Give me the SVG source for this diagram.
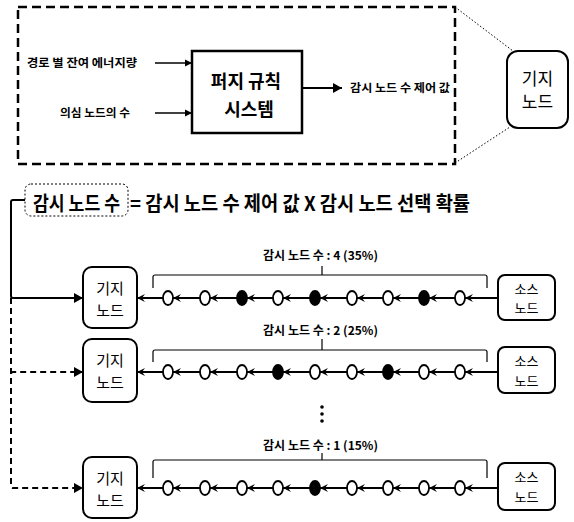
<svg xmlns="http://www.w3.org/2000/svg" width="574" height="522" viewBox="0 0 574 522">
<defs>
<style>
.k{font-family:"Noto Sans CJK KR","Noto Sans",sans-serif;fill:#000}
.b{font-weight:bold}
.ln{stroke:#000;fill:none}
.box{fill:#fff;stroke:#000;stroke-width:2}
.ov{fill:#fff;stroke:#000;stroke-width:1.8}
.fo{fill:#000;stroke:#000;stroke-width:1.8}
.ch{stroke:#000;stroke-width:2;fill:none;marker-end:url(#chev)}
.br{stroke:#000;stroke-width:1.2;fill:none}
</style>
<marker id="chev" markerUnits="userSpaceOnUse" markerWidth="10" markerHeight="10" refX="8" refY="5" orient="auto">
<path d="M0,1 L8,5 L0,9 L3,5 Z" fill="#000"/>
</marker>
<marker id="tri" markerUnits="userSpaceOnUse" markerWidth="10" markerHeight="12" refX="9" refY="6" orient="auto">
<path d="M0,1 L9,6 L0,11 Z" fill="#000"/>
</marker>
<marker id="tris" markerUnits="userSpaceOnUse" markerWidth="8" markerHeight="8" refX="7" refY="4" orient="auto">
<path d="M0,0.5 L7,4 L0,7.5 Z" fill="#000"/>
</marker>
</defs>
<rect width="574" height="522" fill="#fff"/>

<g id="fuzzy-panel">
<rect x="18" y="7" width="437" height="157" fill="none" stroke="#000" stroke-width="2.5" stroke-dasharray="9 5"/>
<g id="fuzzy-system">
<rect x="192" y="51" width="110" height="82" fill="#fff" stroke="#000" stroke-width="2.5"/>
<text class="k b" x="246" y="88" font-size="18" text-anchor="middle">퍼지 규칙</text>
<text class="k b" x="249" y="116" font-size="18" text-anchor="middle">시스템</text>
</g>
<text class="k b" x="27" y="67" font-size="11" textLength="110" lengthAdjust="spacingAndGlyphs">경로 별 잔여 에너지량</text>
<text class="k b" x="60" y="117" font-size="11" textLength="70" lengthAdjust="spacingAndGlyphs">의심 노드의 수</text>
<text class="k b" x="350" y="92" font-size="11" textLength="100" lengthAdjust="spacingAndGlyphs">감시 노드 수 제어 값</text>
</g>

<g id="base-top">
<rect x="507" y="51" width="61" height="77" rx="11" class="box"/>
<text class="k" x="537.5" y="85" font-size="17" text-anchor="middle">기지</text>
<text class="k" x="537.5" y="108" font-size="17" text-anchor="middle">노드</text>
</g>

<g id="formula">
<rect x="25" y="184" width="103" height="32" rx="6" fill="none" stroke="#000" stroke-width="1" stroke-dasharray="2 2"/>
<text class="k b" x="33" y="211" font-size="20" textLength="87" lengthAdjust="spacingAndGlyphs">감시 노드 수</text>
<text class="k b" x="130" y="211" font-size="20" textLength="340" lengthAdjust="spacingAndGlyphs">= 감시 노드 수 제어 값 X  감시 노드 선택 확률</text>
</g>

<g id="base1">
<rect x="83" y="267" width="54" height="61" rx="9" class="box"/>
<text class="k" x="110" y="294" font-size="15" text-anchor="middle">기지</text>
<text class="k" x="110" y="316" font-size="15" text-anchor="middle">노드</text>
</g>
<g id="base2">
<rect x="83" y="339" width="54" height="63" rx="9" class="box"/>
<text class="k" x="110" y="366" font-size="15" text-anchor="middle">기지</text>
<text class="k" x="110" y="388" font-size="15" text-anchor="middle">노드</text>
</g>
<g id="base3">
<rect x="83" y="457" width="54" height="61" rx="9" class="box"/>
<text class="k" x="110" y="484" font-size="15" text-anchor="middle">기지</text>
<text class="k" x="110" y="506" font-size="15" text-anchor="middle">노드</text>
</g>

<g id="source1">
<rect x="498" y="275" width="57" height="45" rx="7" class="box"/>
<text class="k" x="526.5" y="294" font-size="13" text-anchor="middle">소스</text>
<text class="k" x="526.5" y="313" font-size="13" text-anchor="middle">노드</text>
</g>
<g id="source2">
<rect x="498" y="347" width="57" height="46" rx="7" class="box"/>
<text class="k" x="526.5" y="366" font-size="13" text-anchor="middle">소스</text>
<text class="k" x="526.5" y="386" font-size="13" text-anchor="middle">노드</text>
</g>
<g id="source3">
<rect x="498" y="463" width="57" height="47" rx="7" class="box"/>
<text class="k" x="526.5" y="482" font-size="13" text-anchor="middle">소스</text>
<text class="k" x="526.5" y="502" font-size="13" text-anchor="middle">노드</text>
</g>

<g id="connectors">
<path d="M455,7 L513,51" stroke="#000" stroke-width="1" stroke-dasharray="1.5 2" fill="none"/>
<path d="M455,163 L510,127" stroke="#000" stroke-width="1" stroke-dasharray="1.5 2" fill="none"/>
<path d="M155,63 L192,63" class="ln" stroke-width="1.5" marker-end="url(#tris)"/>
<path d="M155,113 L192,113" class="ln" stroke-width="1.5" marker-end="url(#tris)"/>
<path d="M302,88 L342,88" class="ln" stroke-width="2" marker-end="url(#tri)"/>
<path d="M25,200 L13,200 Q11,200 11,202 L11,296 Q11,298 13,298 L83,298" class="ln" stroke-width="2" marker-end="url(#tri)"/>
<path d="M11,298 L11,486 Q11,488 13,488 L83,488" class="ln" stroke-width="2" stroke-dasharray="6 4" marker-end="url(#tri)"/>
<path d="M11,374 Q11,372 13,372 L83,372" class="ln" stroke-width="2" stroke-dasharray="6 4" marker-end="url(#tri)"/>

<g id="chain1">
<path class="ch" d="M498,298 L465,298"/><path class="ch" d="M455,298 L429,298"/><path class="ch" d="M419,298 L393,298"/><path class="ch" d="M383,298 L357,298"/><path class="ch" d="M347,298 L320,298"/><path class="ch" d="M310,298 L283,298"/><path class="ch" d="M273,298 L247,298"/><path class="ch" d="M237,298 L210,298"/><path class="ch" d="M200,298 L173,298"/><path class="ch" d="M163,298 L137,298"/>
<ellipse class="ov" cx="168" cy="298" rx="5" ry="7"/><ellipse class="ov" cx="205" cy="298" rx="5" ry="7"/><ellipse class="fo" cx="242" cy="298" rx="5" ry="7"/><ellipse class="ov" cx="278" cy="298" rx="5" ry="7"/><ellipse class="fo" cx="315" cy="298" rx="5" ry="7"/><ellipse class="ov" cx="352" cy="298" rx="5" ry="7"/><ellipse class="ov" cx="388" cy="298" rx="5" ry="7"/><ellipse class="fo" cx="424" cy="298" rx="5" ry="7"/><ellipse class="ov" cx="460" cy="298" rx="5" ry="7"/>
<path class="br" d="M153,288 L153,277 Q153,275 155,275 L485,275 Q487,275 487,277 L487,288"/>
<path class="br" d="M322,275 L322,266"/>
<text class="k b" x="263" y="260" font-size="12" textLength="115" lengthAdjust="spacingAndGlyphs">감시 노드 수 : 4 (35%)</text>
</g>

<g id="chain2">
<path class="ch" d="M498,372 L465,372"/><path class="ch" d="M455,372 L429,372"/><path class="ch" d="M419,372 L393,372"/><path class="ch" d="M383,372 L357,372"/><path class="ch" d="M347,372 L320,372"/><path class="ch" d="M310,372 L283,372"/><path class="ch" d="M273,372 L247,372"/><path class="ch" d="M237,372 L210,372"/><path class="ch" d="M200,372 L173,372"/><path class="ch" d="M163,372 L137,372"/>
<ellipse class="ov" cx="168" cy="372" rx="5" ry="7"/><ellipse class="ov" cx="205" cy="372" rx="5" ry="7"/><ellipse class="ov" cx="242" cy="372" rx="5" ry="7"/><ellipse class="fo" cx="278" cy="372" rx="5" ry="7"/><ellipse class="ov" cx="315" cy="372" rx="5" ry="7"/><ellipse class="ov" cx="352" cy="372" rx="5" ry="7"/><ellipse class="fo" cx="388" cy="372" rx="5" ry="7"/><ellipse class="ov" cx="424" cy="372" rx="5" ry="7"/><ellipse class="ov" cx="460" cy="372" rx="5" ry="7"/>
<path class="br" d="M153,362 L153,352 Q153,350 155,350 L485,350 Q487,350 487,352 L487,362"/>
<path class="br" d="M322,350 L322,339"/>
<text class="k b" x="263" y="335" font-size="12" textLength="115" lengthAdjust="spacingAndGlyphs">감시 노드 수 : 2 (25%)</text>
</g>

<g id="ellipsis">
<circle cx="322" cy="407" r="1.8"/><circle cx="322" cy="414" r="1.8"/><circle cx="322" cy="421" r="1.8"/>
</g>

<g id="chain3">
<path class="ch" d="M498,488 L465,488"/><path class="ch" d="M455,488 L429,488"/><path class="ch" d="M419,488 L393,488"/><path class="ch" d="M383,488 L357,488"/><path class="ch" d="M347,488 L320,488"/><path class="ch" d="M310,488 L283,488"/><path class="ch" d="M273,488 L247,488"/><path class="ch" d="M237,488 L210,488"/><path class="ch" d="M200,488 L173,488"/><path class="ch" d="M163,488 L137,488"/>
<ellipse class="ov" cx="168" cy="488" rx="5" ry="7"/><ellipse class="ov" cx="205" cy="488" rx="5" ry="7"/><ellipse class="ov" cx="242" cy="488" rx="5" ry="7"/><ellipse class="ov" cx="278" cy="488" rx="5" ry="7"/><ellipse class="fo" cx="315" cy="488" rx="5" ry="7"/><ellipse class="ov" cx="352" cy="488" rx="5" ry="7"/><ellipse class="ov" cx="388" cy="488" rx="5" ry="7"/><ellipse class="ov" cx="424" cy="488" rx="5" ry="7"/><ellipse class="ov" cx="460" cy="488" rx="5" ry="7"/>
<path class="br" d="M153,478 L153,462 Q153,460 155,460 L485,460 Q487,460 487,462 L487,478"/>
<path class="br" d="M322,460 L322,453"/>
<text class="k b" x="263" y="450" font-size="12" textLength="115" lengthAdjust="spacingAndGlyphs">감시 노드 수 : 1 (15%)</text>
</g>
</g>
</svg>
